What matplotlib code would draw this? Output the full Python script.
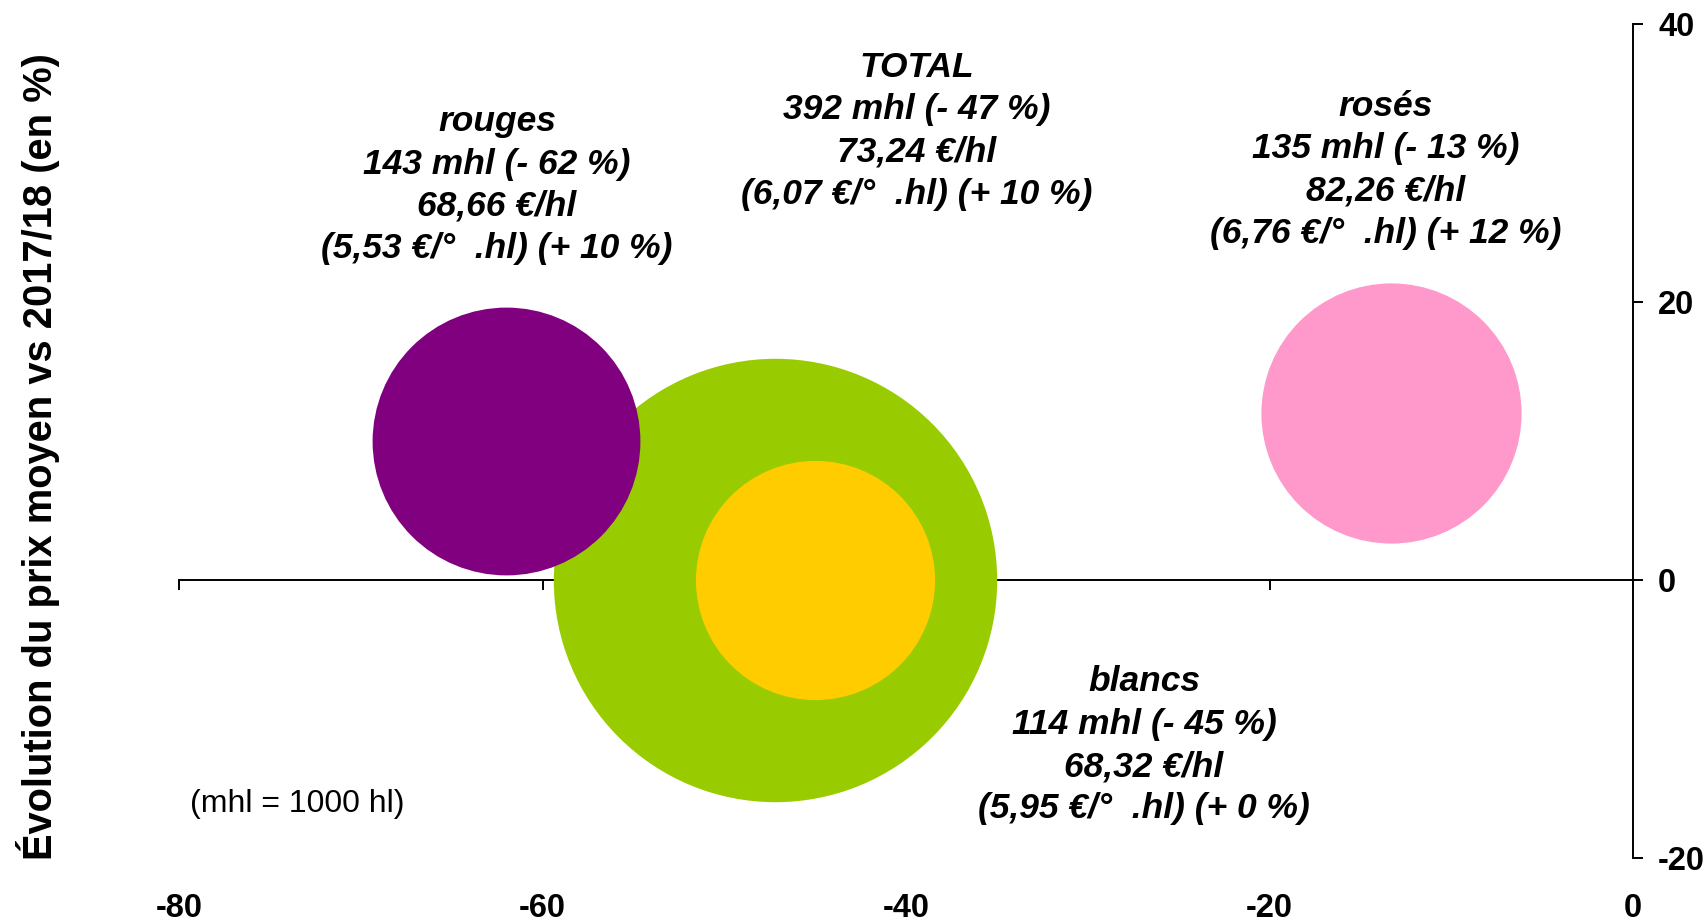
import matplotlib.pyplot as plt

plt.rcParams['font.family'] = ['Liberation Sans', 'DejaVu Sans']
plt.rcParams['axes.unicode_minus'] = False

# data
names = ['TOTAL', 'rouges', 'blancs', 'rosés']
volumes = [392, 143, 114, 135]            # mhl (bubble size)
vol_change = [-47.2, -62, -45, -13.3]     # x : évolution volume (%)
price_change = [0, 10, 0, 12]             # y : évolution prix moyen (%)
prices = ['73,24', '68,66', '68,32', '82,26']
deg_prices = ['6,07', '5,53', '5,95', '6,76']
deg_change = [10, 10, 0, 12]
colors = ['#99CC00', '#800080', '#FFCC00', '#FF99CC']

xticks = [-80, -60, -40, -20, 0]
yticks = [-20, 0, 20, 40]

# label placement
label_pos = [(-39.4, 32.3), (-62.5, 28.4), (-26.9, -11.9), (-13.6, 29.5)]


def main():
	fig = plt.figure(figsize=(17.08, 9.23), dpi=100)
	ax = fig.add_axes([0.1048, 0.0704, 0.8513, 0.9036])

	for i in range(len(names)):
		ax.scatter(vol_change[i], price_change[i], s=260 * volumes[i],
				   color=colors[i], linewidths=0, zorder=3 + (i > 0))
		txt = (f"{names[i]}\n{volumes[i]} mhl (- {abs(vol_change[i]):.0f} %)\n"
			   f"{prices[i]} €/hl\n({deg_prices[i]} €/°  .hl) (+ {deg_change[i]} %)")
		ax.text(label_pos[i][0], label_pos[i][1], txt, ha='center', va='center',
				fontsize=25.5, fontweight='bold', fontstyle='italic',
				linespacing=1.36, zorder=5)

	ax.text(-73.5, -16.1, '(mhl = 1000 hl)', ha='center', va='center', fontsize=23)

	ax.set_xlim(-80, 0)
	ax.set_ylim(-20, 40)

	ax.spines['top'].set_visible(False)
	ax.spines['left'].set_visible(False)
	ax.spines['bottom'].set_position(('data', 0))
	ax.spines['bottom'].set_linewidth(1.4)
	ax.spines['right'].set_linewidth(1.4)

	ax.set_xticks(xticks)
	ax.tick_params(axis='x', direction='out', length=7, width=1.4, labelbottom=False)
	ax.yaxis.tick_right()
	ax.set_yticks(yticks)
	ax.tick_params(axis='y', direction='out', length=7, width=1.4, pad=11, labelsize=23.5)
	for t in ax.get_yticklabels():
		t.set_fontweight('bold')

	sec = ax.secondary_xaxis('bottom')
	sec.spines['bottom'].set_visible(False)
	sec.set_xticks(xticks)
	sec.tick_params(length=0, pad=25, labelsize=23.5)
	for t in sec.get_xticklabels():
		t.set_fontweight('bold')

	fig.text(38 / 1708, 1 - 457 / 923, 'Évolution du prix moyen vs 2017/18 (en %)',
			 rotation=90, ha='center', va='center', fontsize=28.7, fontweight='bold')

	fig.savefig('out.png', dpi=100)


if __name__ == '__main__':
	main()
